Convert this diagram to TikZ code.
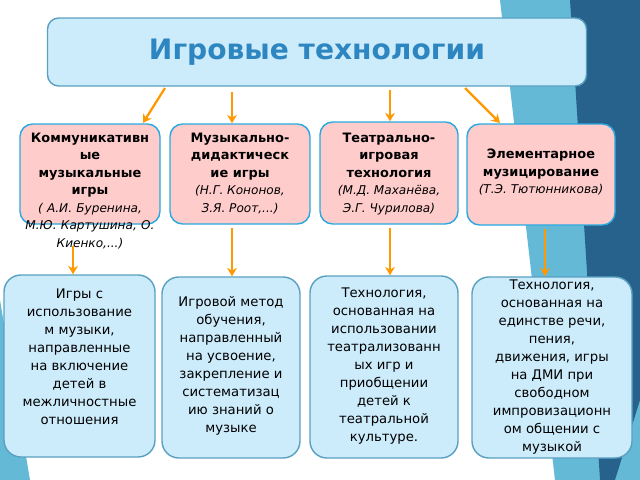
\documentclass[tikz,border=0pt]{standalone}
\usepackage{fontspec}
\setmainfont{DejaVu Sans}
\usetikzlibrary{
    positioning,
    arrows.meta
}
\definecolor{titleBlue}{RGB}{46, 134, 193}
\definecolor{paleBlue}{RGB}{204, 235, 251}
\definecolor{edgeBlue}{RGB}{90, 160, 192}
\definecolor{pinkFill}{RGB}{255, 204, 204}
\definecolor{pinkEdge}{RGB}{41, 168, 224}
\definecolor{arrowOrange}{RGB}{255, 153, 0}
\definecolor{bandLight}{RGB}{100, 185, 215}
\definecolor{bandDark}{RGB}{38, 98, 140}

\tikzset{
    kind/.style={draw=pinkEdge, fill=pinkFill, line width=1pt, rounded corners=9pt,
        align=center, font=\fontsize{9.2}{12.4}\selectfont, inner sep=1pt},
    method/.style={draw=edgeBlue, fill=paleBlue, line width=1pt, rounded corners=12pt,
        align=center, font=\fontsize{9.2}{12.6}\selectfont, inner sep=1pt},
    link/.style={draw=arrowOrange, line width=1.6pt, -{Stealth[length=6pt,width=7pt]}}
}

\begin{document}
\begin{tikzpicture}[x=0.025cm, y=-0.025cm]
            \useasboundingbox (0,0) rectangle (640,480);
            
            % background bands
            \fill[bandLight] (500,0) -- (640,0) -- (640,480) -- (555,480) -- cycle;
            \fill[bandDark] (570,0) -- (640,0) -- (640,400) -- (615,480) -- (600,480) -- cycle;
            \fill[bandLight] (0,300) -- (30,480) -- (0,480) -- cycle;
            
            \node[draw=edgeBlue, fill=paleBlue, line width=1pt, rounded corners=8pt,
                minimum width=539*0.025cm, minimum height=68*0.025cm,
                font=\fontsize{20}{24}\selectfont\bfseries, text=titleBlue]
                (title) at (317,52) {Игровые технологии};
            
            % top row
            \node[kind, minimum width=140*0.025cm, minimum height=100*0.025cm] (comm) at (90,174) {};
            \node[kind, minimum width=140*0.025cm, minimum height=100*0.025cm] (didak) at (240,174) {};
            \node[kind, minimum width=138*0.025cm, minimum height=102*0.025cm] (teatr) at (389,173) {};
            \node[kind, minimum width=148*0.025cm, minimum height=101*0.025cm] (elem) at (541,174.5) {};
            
            \node[font=\fontsize{9.2}{12.4}\selectfont, align=center, text width=150*0.025cm, anchor=north]
                (commText) at (90,128) {\textbf{Коммуникативн}\\\textbf{ые}\\\textbf{музыкальные}\\\textbf{игры}\\
                {\fontsize{8.6}{11}\selectfont\itshape ( А.И. Буренина,}\\{\fontsize{8.6}{11}\selectfont\itshape М.Ю. Картушина, О.}\\{\fontsize{8.6}{11}\selectfont\itshape Киенко,...)}};
            \node[font=\fontsize{9.2}{12.4}\selectfont, align=center, anchor=north]
                (didakText) at (240,128) {\textbf{Музыкально-}\\\textbf{дидактическ}\\\textbf{ие игры}\\
                {\fontsize{8.6}{11}\selectfont\itshape (Н.Г. Кононов,}\\{\fontsize{8.6}{11}\selectfont\itshape З.Я. Роот,...)}};
            \node[font=\fontsize{9.2}{12.4}\selectfont, align=center, anchor=north]
                (teatrText) at (389,128) {\textbf{Театрально-}\\\textbf{игровая}\\\textbf{технология}\\
                {\fontsize{8.6}{11}\selectfont\itshape (М.Д. Маханёва,}\\{\fontsize{8.6}{11}\selectfont\itshape Э.Г. Чурилова)}};
            \node[font=\fontsize{9.2}{12.4}\selectfont, align=center, anchor=north]
                (elemText) at (541,144) {\textbf{Элементарное}\\\textbf{музицирование}\\
                {\fontsize{8.6}{11}\selectfont\itshape (Т.Э. Тютюнникова)}};
            
            % bottom row
            \node[method, minimum width=151*0.025cm, minimum height=182*0.025cm] (musgame) at (79.5,366) {};
            \node[method, minimum width=138*0.025cm, minimum height=181*0.025cm] (gamemeth) at (231,367.5) {};
            \node[method, minimum width=148*0.025cm, minimum height=182*0.025cm] (theatre) at (384,367) {};
            \node[method, minimum width=160*0.025cm, minimum height=181*0.025cm] (impro) at (552,367.5) {};
            
            \node[align=center, font=\fontsize{9.4}{12.8}\selectfont] (musgameText) at (79.5,357)
                {Игры с\\использование\\м музыки,\\направленные\\на включение\\детей в\\межличностные\\отношения};
            \node[align=center, font=\fontsize{9.4}{12.8}\selectfont] (gamemethText) at (231,366)
                {Игровой метод\\обучения,\\направленный\\на усвоение,\\закрепление и\\систематизац\\ию знаний о\\музыке};
            \node[align=center, font=\fontsize{9.4}{12.8}\selectfont] (theatreText) at (384,366)
                {Технология,\\основанная на\\использовании\\театрализованн\\ых игр и\\приобщении\\детей к\\театральной\\культуре.};
            \node[align=center, font=\fontsize{9.4}{12.8}\selectfont] (improText) at (552,367)
                {Технология,\\основанная на\\единстве речи,\\пения,\\движения, игры\\на ДМИ при\\свободном\\импровизационн\\ом общении с\\музыкой};
            
            % connectors
            \coordinate (t1) at (165,88);
            \coordinate (t2) at (232,92);
            \coordinate (t3) at (390,90);
            \coordinate (t4) at (465,88);
            \coordinate (s1) at (73,246);
            \coordinate (s2) at (232,228);
            \coordinate (s3) at (390,228);
            \coordinate (s4) at (545,229);
            \draw[link] (t1) -- (143,123);
            \draw[link] (t2) -- (t2 |- didak.north);
            \draw[link] (t3) -- (t3 |- teatr.north);
            \draw[link] (t4) -- (500,123);
            \draw[link] (s1) -- (s1 |- musgame.north);
            \draw[link] (s2) -- (s2 |- gamemeth.north);
            \draw[link] (s3) -- (s3 |- theatre.north);
            \draw[link] (s4) -- (s4 |- impro.north);
        \end{tikzpicture}
\end{document}
